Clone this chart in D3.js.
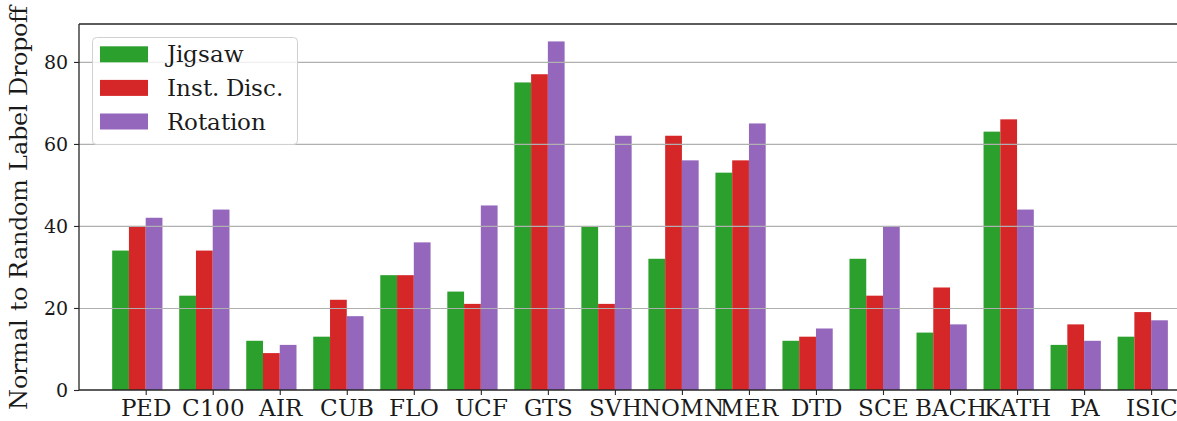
<!DOCTYPE html>
<html>
<head>
<meta charset="utf-8">
<script src="https://cdn.jsdelivr.net/npm/d3@7"></script>
<style>
  @font-face {
    font-family: "ChartSerif";
    src: local("DejaVu Serif"), local("DejaVuSerif"), local("DejaVu Serif Book");
  }
  html, body { margin: 0; padding: 0; background: #fff; }
  svg { display: block; }
  svg text { font-family: "ChartSerif", "DejaVu Serif"; }
</style>
</head>
<body>
<svg id="chart" width="1177" height="421"></svg>
<script>
const categories = ["PED","C100","AIR","CUB","FLO","UCF","GTS","SVH","NOMN","MER","DTD","SCE","BACH","KATH","PA","ISIC"];
const seriesNames = ["Jigsaw","Inst. Disc.","Rotation"];
const jigsaw   = [34, 23, 12, 13, 28, 24, 75, 40, 32, 53, 12, 32, 14, 63, 11, 13];
const instDisc = [40, 34,  9, 22, 28, 21, 77, 21, 62, 56, 13, 23, 25, 66, 16, 19];
const rotation = [42, 44, 11, 18, 36, 45, 85, 62, 56, 65, 15, 40, 16, 44, 12, 17];
const yTicks = [0, 20, 40, 60, 80];
const colors = ["#2ca02c", "#d62728", "#9467bd"];

const FONT = '"ChartSerif", "DejaVu Serif"';
const TXT = "#1a1a1a";
const series = [jigsaw, instDisc, rotation];
const barW = 0.25;

const svg = d3.select("#chart");
const mLeft = 79, mRight = 1180, mTop = 24, mBottom = 390;

const x = d3.scaleLinear().domain([-0.87, 15.556]).range([mLeft, mRight]);
const y = d3.scaleLinear().domain([0, 89.25]).range([mBottom, mTop]);

function setFont(sel, size) {
  sel.attr("font-family", "DejaVu Serif").attr("font-size", size)
    .style("font-family", FONT).style("font-size", size + "px").style("fill", TXT);
}

// bars
series.forEach((vals, s) => {
  svg.append("g").selectAll("rect").data(vals).join("rect")
    .attr("x", (d, i) => x(i + (s - 1) * barW - barW / 2))
    .attr("width", (d, i) => x(i + barW) - x(i))
    .attr("y", d => y(d))
    .attr("height", d => y(0) - y(d))
    .attr("fill", colors[s]);
});

// grid (drawn over bars)
svg.append("g").selectAll("line").data(yTicks.filter(t => t > 0)).join("line")
  .attr("x1", mLeft).attr("x2", mRight)
  .attr("y1", d => y(d) + 0.5).attr("y2", d => y(d) + 0.5)
  .attr("stroke", "#b0b0b0").attr("stroke-width", 1.2);

// y axis
const yAxis = svg.append("g").attr("transform", `translate(${mLeft},0)`)
  .call(d3.axisLeft(y).tickValues(yTicks).tickSize(5).tickPadding(6));
yAxis.attr("font-family", null).attr("font-size", null);
yAxis.select(".domain").remove();
yAxis.selectAll("line").attr("stroke", "#262626").attr("stroke-width", 1.1);
setFont(yAxis.selectAll("text"), 19);

// x axis
const xAxis = svg.append("g").attr("transform", `translate(0,${mBottom})`)
  .call(d3.axisBottom(x).tickValues(d3.range(categories.length).map(i => i + barW / 2))
    .tickFormat((d, i) => categories[i]).tickSize(5).tickPadding(5));
xAxis.attr("font-family", null).attr("font-size", null);
xAxis.select(".domain").remove();
xAxis.selectAll("line").attr("stroke", "#262626").attr("stroke-width", 1.1);
setFont(xAxis.selectAll("text"), 22.5);

// spines
const spine = (x1, y1, x2, y2) => svg.append("line")
  .attr("x1", x1).attr("y1", y1).attr("x2", x2).attr("y2", y2)
  .attr("stroke", "#262626").attr("stroke-width", 1.3);
spine(mLeft, mTop, mLeft, mBottom);
spine(mLeft, mBottom, mRight, mBottom);
spine(mLeft, mTop, mRight, mTop);

// y label
setFont(svg.append("text")
  .attr("transform", `translate(27,${(mTop + mBottom) / 2 + 1}) rotate(-90)`)
  .attr("text-anchor", "middle")
  .text("Normal to Random Label Dropoff"), 23.5);

// legend
const lg = svg.append("g");
lg.append("rect").attr("x", 92.5).attr("y", 37.5).attr("width", 205).attr("height", 107)
  .attr("rx", 4).attr("fill", "#fff").attr("fill-opacity", 0.8)
  .attr("stroke", "#d0d0d0").attr("stroke-width", 1);
seriesNames.forEach((name, s) => {
  const cy = 54.3 + s * 33.6;
  lg.append("rect").attr("x", 100).attr("y", cy - 8).attr("width", 48).attr("height", 16).attr("fill", colors[s]);
  setFont(lg.append("text").attr("x", 167).attr("y", cy).attr("dy", "0.36em").text(name), 22.5);
});
</script>
</body>
</html>
